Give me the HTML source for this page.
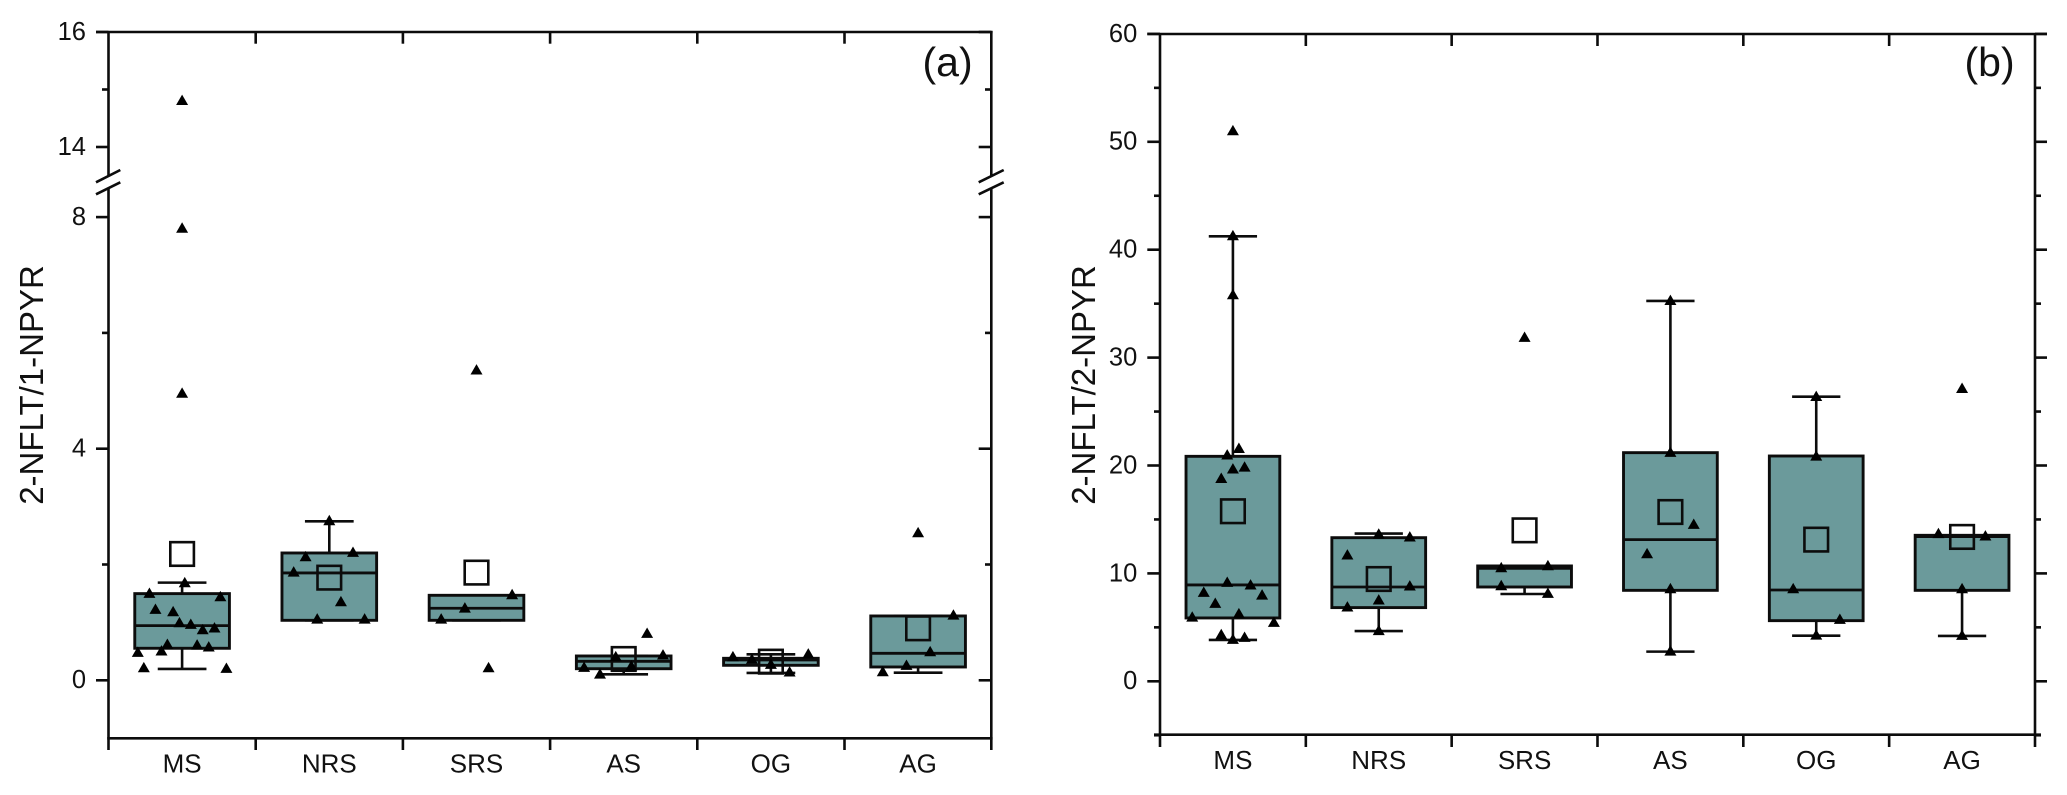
<!DOCTYPE html>
<html lang="en">
<head>
<meta charset="utf-8">
<title>2-NFLT ratios box charts</title>
<style>
  html, body { margin: 0; padding: 0; background: #fff; }
  svg { display: block; }
  text { font-family: "Liberation Sans", Arial, sans-serif; fill: #111; }
</style>
</head>
<body>
<svg id="chart" xmlns="http://www.w3.org/2000/svg" width="2067" height="795" viewBox="0 0 2067 795"></svg>
<script>
// ---- shared data ----
const categories = ['MS', 'NRS', 'SRS', 'AS', 'OG', 'AG'];

// ---- panel (a): 2-NFLT/1-NPYR ----
const aMajorTicks = [16, 14, 8, 4, 0];
const aMinorTicks = [15, 6, 2];
const aQ1 = [0.553, 1.036, 1.036, 0.20, 0.259, 0.23];
const aQ3 = [1.497, 2.199, 1.468, 0.42, 0.38, 1.111];
const aMedian = [0.944, 1.854, 1.244, 0.328, 0.35, 0.466];
const aWhiskerLow = [0.196, 1.036, 1.036, 0.104, 0.127, 0.132];
const aWhiskerHigh = [1.687, 2.746, 1.468, 0.42, 0.449, 1.111];
const aMean = [2.182, 1.773, 1.86, 0.368, 0.322, 0.898];
const aPointValues = [
  [14.81, 7.81, 4.96, 1.687, 1.503, 1.445, 1.226, 1.186, 0.996, 0.967, 0.875, 0.904, 0.622, 0.61, 0.576, 0.507, 0.484, 0.219, 0.207],
  [2.758, 2.136, 2.211, 1.871, 1.359, 1.059, 1.059],
  [5.36, 1.48, 1.249, 1.059, 0.219],
  [0.812, 0.438, 0.409, 0.248, 0.225, 0.109],
  [0.455, 0.409, 0.363, 0.276, 0.144],
  [2.55, 1.128, 0.495, 0.259, 0.15]
];
const aPointJitter = [
  [0, 0, 0, 0.018, -0.222, 0.26, -0.181, -0.061, -0.018, 0.059, 0.14, 0.22, -0.1, 0.102, 0.181, -0.14, -0.301, -0.26, 0.301],
  [0, -0.161, 0.161, -0.242, 0.079, -0.082, 0.24],
  [0, 0.242, -0.079, -0.24, 0.082],
  [0.159, 0.267, -0.054, 0.052, -0.269, -0.161],
  [0.254, -0.258, -0.129, 0, 0.127],
  [0, 0.24, 0.082, -0.079, -0.24]
];

// ---- panel (b): 2-NFLT/2-NPYR ----
const bMajorTicks = [60, 50, 40, 30, 20, 10, 0];
const bMinorTicks = [55, 45, 35, 25, 15, 5, -5];
const bQ1 = [5.87, 6.83, 8.74, 8.43, 5.62, 8.43];
const bQ3 = [20.85, 13.31, 10.69, 21.19, 20.88, 13.53];
const bMedian = [8.93, 8.74, 10.47, 13.13, 8.46, 13.41];
const bWhiskerLow = [3.83, 4.66, 8.09, 2.75, 4.23, 4.2];
const bWhiskerHigh = [41.24, 13.69, 10.69, 35.25, 26.38, 13.53];
const bMean = [15.76, 9.48, 13.99, 15.69, 13.13, 13.38];
const bPointValues = [
  [51.03, 41.3, 35.83, 21.59, 20.98, 19.86, 19.68, 18.81, 9.18, 8.93, 8.25, 8.0, 7.23, 6.27, 5.96, 5.47, 4.33, 4.08, 3.89],
  [13.65, 13.38, 11.71, 8.84, 7.54, 6.89, 4.7],
  [31.88, 10.53, 10.72, 8.87, 8.16],
  [35.3, 21.22, 14.55, 11.83, 8.59, 2.81],
  [26.4, 20.88, 8.59, 5.75, 4.29],
  [27.15, 13.69, 13.47, 8.59, 4.26]
];
const bPointJitter = [
  [0, 0, 0, 0.041, -0.039, 0.08, 0, -0.08, -0.039, 0.121, -0.2, 0.2, -0.121, 0.041, -0.279, 0.281, -0.08, 0.08, 0],
  [0, 0.213, -0.215, 0.213, 0, -0.215, 0],
  [0, -0.16, 0.16, -0.16, 0.16],
  [0, 0, 0.16, -0.16, 0, 0],
  [0, 0, -0.158, 0.162, 0],
  [0, -0.162, 0.16, 0, 0]
];

// ---- drawing ----
const NS = 'http://www.w3.org/2000/svg';
const root = document.getElementById('chart');
const FILL = '#6b9a9b';
const INK = '#0c0c0c';

function make(parent, tag, props, txt) {
  const el = document.createElementNS(NS, tag);
  for (const k in props) el.setAttribute(k, props[k]);
  if (txt !== undefined) el.textContent = txt;
  parent.appendChild(el);
  return el;
}
function line(parent, x1, y1, x2, y2, w) {
  return make(parent, 'line', { x1, y1, x2, y2, stroke: INK, 'stroke-width': w || 2.6 });
}

// axis functions
const aY = v => v >= 14 ? 147 - 57.5 * (v - 14) : 680.3 - 57.9 * v;
const bY = v => 681.3 - 10.79 * v;
const aX = (i, j) => 108.5 + 147.2 * (i + 0.5 + (j || 0));
const bX = (i, j) => 1160 + 145.83 * (i + 0.5 + (j || 0));

function drawSeries(g, cfg) {
  const { x, y, step } = cfg;
  categories.forEach((cat, i) => {
    const group = make(g, 'g', {});
    
    
    const cx = x(i);
    const hw = step * 0.3215;
    const capw = step * 0.1655;

    const wLo = line(group, cx, y(cfg.q1[i]), cx, y(cfg.wLow[i]), 2.6);
    
    
    const wHi = line(group, cx, y(cfg.q3[i]), cx, y(cfg.wHigh[i]), 2.6);
    
    
    const capLo = line(group, cx - capw, y(cfg.wLow[i]), cx + capw, y(cfg.wLow[i]), 2.6);
    
    
    const capHi = line(group, cx - capw, y(cfg.wHigh[i]), cx + capw, y(cfg.wHigh[i]), 2.6);
    
    

    const top = y(cfg.q3[i]);
    const bot = y(cfg.q1[i]);
    const box = make(group, 'rect', { x: cx - hw, y: top, width: 2 * hw, height: bot - top, fill: FILL, stroke: INK, 'stroke-width': 2.9 });
    
    

    const med = line(group, cx - hw, y(cfg.median[i]), cx + hw, y(cfg.median[i]), 2.8);
    
    

    const my = y(cfg.mean[i]);
    const mean = make(group, 'rect', { x: cx - 11.8, y: my - 11.8, width: 23.6, height: 23.6, fill: 'none', stroke: INK, 'stroke-width': 2.6 });
    
    

    cfg.values[i].forEach((v, k) => {
      const px = x(i, cfg.jitter[i][k]);
      const py = y(v);
      const p = make(group, 'path', { d: 'M' + px + ' ' + (py - 5.8) + 'L' + (px + 6) + ' ' + (py + 4.6) + 'L' + (px - 6) + ' ' + (py + 4.6) + 'Z', fill: '#000' });
      
      
    });
  });
}

function drawCategoryLabels(g, x, baseline) {
  categories.forEach((cat, i) => {
    const t = make(g, 'text', { x: x(i), y: baseline, 'text-anchor': 'middle', 'font-size': 26 }, cat);
    
    
  });
}

// ---- panel a ----
const pa = make(root, 'g', {});



const paAxes = make(pa, 'g', {});


line(paAxes, 96, 32, 992.6, 32);
line(paAxes, 107.2, 738.3, 992.6, 738.3);
line(paAxes, 108.5, 31, 108.5, 176);
line(paAxes, 108.5, 188.5, 108.5, 750);
line(paAxes, 991.3, 31, 991.3, 176);
line(paAxes, 991.3, 188.5, 991.3, 750);
for (let i = 1; i < categories.length; i++) {
  line(paAxes, aX(i, -0.5), 32, aX(i, -0.5), 43.7);
  line(paAxes, aX(i, -0.5), 738.3, aX(i, -0.5), 750);
}
aMajorTicks.forEach(v => {
  line(paAxes, 96, aY(v), 108.5, aY(v));
  line(paAxes, 978.7, aY(v), 991.3, aY(v));
  const t = make(paAxes, 'text', { x: 86, y: aY(v) + 7.9, 'text-anchor': 'end', 'font-size': 25.5 }, String(v));
  
  
});
aMinorTicks.forEach(v => {
  line(paAxes, 102, aY(v), 108.5, aY(v));
  line(paAxes, 985, aY(v), 991.3, aY(v));
});
[[96, 120.3], [978.7, 1003.7]].forEach(pair => {
  line(paAxes, pair[0], 182.3, pair[1], 170);
  line(paAxes, pair[0], 194.3, pair[1], 182.3);
});
drawCategoryLabels(paAxes, aX, 772.3);

drawSeries(pa, { x: aX, y: aY, step: 147.2, q1: aQ1, q3: aQ3, median: aMedian, wLow: aWhiskerLow, wHigh: aWhiskerHigh, mean: aMean, values: aPointValues, jitter: aPointJitter });

// ---- panel b ----
const pb = make(root, 'g', {});



const pbAxes = make(pb, 'g', {});


line(pbAxes, 1147.3, 34, 2047, 34);
line(pbAxes, 1154, 734.7, 2041, 734.7);
line(pbAxes, 1160, 33, 1160, 747);
line(pbAxes, 2035, 33, 2035, 747);
for (let i = 1; i < categories.length; i++) {
  line(pbAxes, bX(i, -0.5), 34, bX(i, -0.5), 46);
  line(pbAxes, bX(i, -0.5), 734.7, bX(i, -0.5), 747);
}
bMajorTicks.forEach(v => {
  line(pbAxes, 1147.3, bY(v), 1160, bY(v));
  line(pbAxes, 2035, bY(v), 2047, bY(v));
  const t = make(pbAxes, 'text', { x: 1137.3, y: bY(v) + 7.9, 'text-anchor': 'end', 'font-size': 25.5 }, String(v));
  
  
});
bMinorTicks.forEach(v => {
  line(pbAxes, 1154, bY(v), 1160, bY(v));
  line(pbAxes, 2035, bY(v), 2041, bY(v));
});
drawCategoryLabels(pbAxes, bX, 769);

drawSeries(pb, { x: bX, y: bY, step: 145.83, q1: bQ1, q3: bQ3, median: bMedian, wLow: bWhiskerLow, wHigh: bWhiskerHigh, mean: bMean, values: bPointValues, jitter: bPointJitter });
</script>
<script>
// static titles and panel tags
(function () {
  const svg = document.getElementById('chart');
  const NS = 'http://www.w3.org/2000/svg';

  const ta = document.createElementNS(NS, 'text');
  ta.setAttribute('transform', 'translate(43 385) rotate(-90)');
  ta.setAttribute('text-anchor', 'middle');
  ta.setAttribute('font-size', '33');
  ta.textContent = '2-NFLT/1-NPYR';
  
  
  svg.appendChild(ta);

  const tb = document.createElementNS(NS, 'text');
  tb.setAttribute('transform', 'translate(1095 385) rotate(-90)');
  tb.setAttribute('text-anchor', 'middle');
  tb.setAttribute('font-size', '33');
  tb.textContent = '2-NFLT/2-NPYR';
  
  
  svg.appendChild(tb);

  const la = document.createElementNS(NS, 'text');
  la.setAttribute('x', '922.5');
  la.setAttribute('y', '76');
  la.setAttribute('font-size', '41');
  la.textContent = '(a)';
  
  
  svg.appendChild(la);

  const lb = document.createElementNS(NS, 'text');
  lb.setAttribute('x', '1964.5');
  lb.setAttribute('y', '76');
  lb.setAttribute('font-size', '41');
  lb.textContent = '(b)';
  
  
  svg.appendChild(lb);
})();
</script>
</body>
</html>
